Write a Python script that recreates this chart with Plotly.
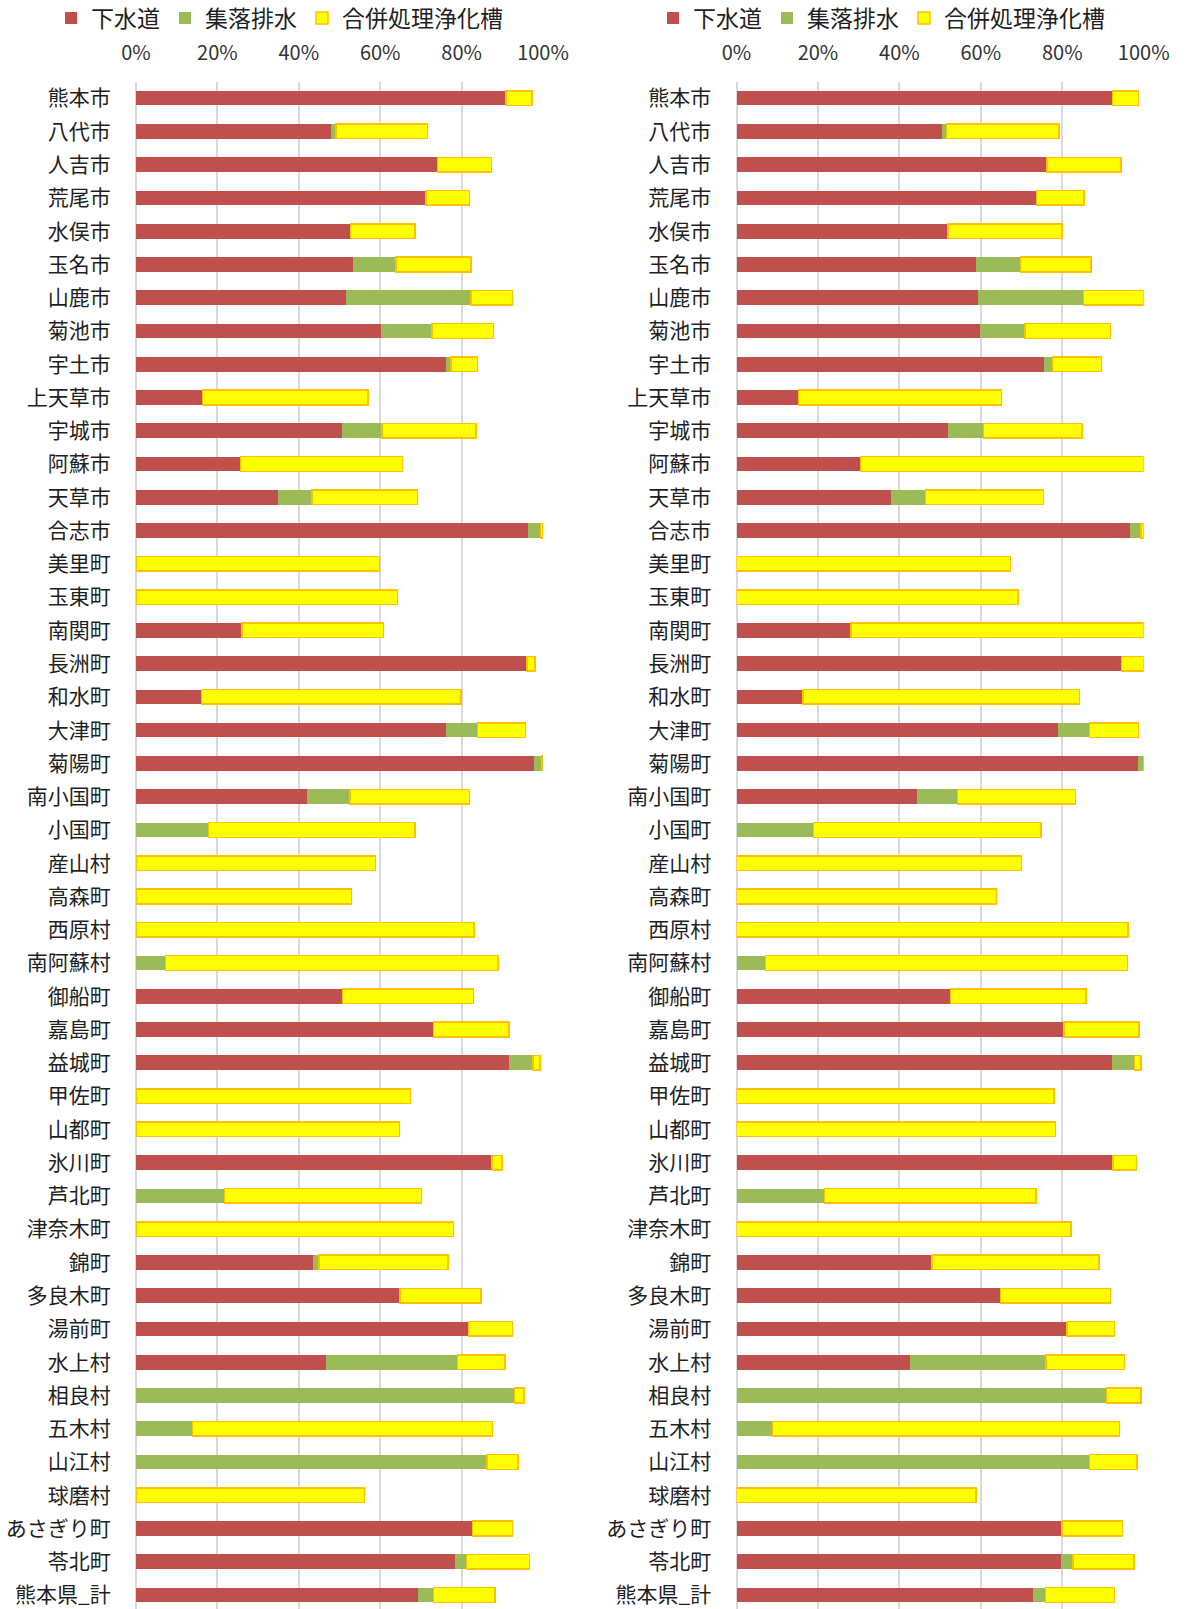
import plotly.graph_objects as go

categories = ["熊本市", "八代市", "人吉市", "荒尾市", "水俣市", "玉名市", "山鹿市", "菊池市", "宇土市",
              "上天草市", "宇城市", "阿蘇市", "天草市", "合志市", "美里町", "玉東町", "南関町", "長洲町",
              "和水町", "大津町", "菊陽町", "南小国町", "小国町", "産山村", "高森町", "西原村", "南阿蘇村",
              "御船町", "嘉島町", "益城町", "甲佐町", "山都町", "氷川町", "芦北町", "津奈木町", "錦町",
              "多良木町", "湯前町", "水上村", "相良村", "五木村", "山江村", "球磨村", "あさぎり町",
              "苓北町", "熊本県_計"]

series_names = ["下水道", "集落排水", "合併処理浄化槽"]
tick_values = [0, 20, 40, 60, 80, 100]
tick_labels = ["0%", "20%", "40%", "60%", "80%", "100%"]

# Left chart (%)
left_sewer = [90.7, 47.9, 74.1, 71.3, 52.7, 53.2, 51.5, 60.3, 76.2, 16.3, 50.5, 25.7, 34.9, 96.2, 0, 0,
              26.0, 96.1, 16.1, 76.1, 97.9, 41.9, 0, 0, 0, 0, 0, 50.7, 73.1, 91.7, 0, 0, 87.5, 0, 0,
              43.6, 64.9, 81.7, 46.6, 0, 0, 0, 0, 82.7, 78.4, 69.2]
left_village = [0.2, 1.2, 0, 0, 0, 10.7, 30.8, 12.4, 1.2, 0, 9.9, 0, 8.3, 3.2, 0, 0,
                0, 0, 0, 7.8, 1.9, 10.7, 17.8, 0, 0, 0, 7.2, 0, 0, 5.9, 0, 0, 0, 21.7, 0,
                1.4, 0, 0, 32.4, 93.0, 13.9, 86.3, 0, 0, 2.8, 3.9]
left_septic = [6.4, 22.5, 13.2, 10.6, 15.9, 18.4, 10.2, 15.1, 6.5, 40.7, 23.1, 39.8, 26.0, 0.6, 59.8, 64.3,
               34.8, 1.9, 63.8, 11.8, 0.2, 29.3, 50.7, 58.8, 53.0, 83.0, 81.8, 32.2, 18.6, 1.7, 67.4, 64.8,
               2.4, 48.5, 78.0, 31.6, 19.9, 10.8, 11.7, 2.3, 73.7, 7.6, 56.1, 9.8, 15.5, 15.1]

# Right chart (%)
right_sewer = [92.3, 50.5, 76.3, 73.7, 52.0, 58.8, 59.4, 59.8, 75.6, 15.2, 52.0, 30.4, 38.0, 96.6, 0, 0,
               28.1, 94.6, 16.3, 78.9, 98.5, 44.3, 0, 0, 0, 0, 0, 52.6, 80.4, 92.1, 0, 0, 92.4, 0, 0,
               48.0, 64.8, 81.2, 42.7, 0, 0, 0, 0, 79.9, 79.8, 72.9]
right_village = [0, 1.1, 0, 0, 0, 10.9, 25.8, 11.1, 2.0, 0, 8.6, 0, 8.4, 2.7, 0, 0,
                 0, 0, 0, 7.8, 1.5, 10.0, 18.9, 0, 0, 0, 7.1, 0, 0, 5.6, 0, 0, 0, 21.6, 0,
                 0, 0, 0, 33.3, 90.9, 8.8, 86.7, 0, 0, 2.8, 3.0]
right_septic = [6.4, 27.6, 18.1, 11.6, 27.9, 17.3, 14.8, 21.0, 12.0, 49.9, 24.3, 69.6, 29.0, 0.7, 67.3, 69.1,
                71.9, 5.4, 67.9, 12.0, 0, 28.9, 55.9, 70.0, 63.9, 96.1, 88.9, 33.2, 18.4, 1.6, 78.0, 78.4,
                5.8, 51.9, 82.1, 41.0, 27.1, 11.6, 19.3, 8.4, 85.3, 11.7, 58.8, 14.9, 15.0, 16.9]

colors = ["#C0504D", "#9BBB59", "#FFFF00"]
line_colors = ["rgba(0,0,0,0)", "rgba(0,0,0,0)", "#FFC000"]
line_widths = [0, 0, 1.5]

FONT = "Noto Sans CJK JP"
W, H = 1185, 1609


def nz(vals):
    return [v if v else None for v in vals]


fig = go.Figure()
panels = [
    ("x", "y", "legend", [left_sewer, left_village, left_septic]),
    ("x2", "y2", "legend2", [right_sewer, right_village, right_septic]),
]
for xa, ya, lg, data in panels:
    for name, vals, c, lc, lw in zip(series_names, data, colors, line_colors, line_widths):
        fig.add_trace(go.Bar(
            y=categories, x=nz(vals), name=name, orientation="h",
            xaxis=xa, yaxis=ya, legend=lg,
            marker=dict(color=c, line=dict(color=lc, width=lw)),
            hoverinfo="skip",
        ))

top_px = 81.5
y_dom = [0, 1 - top_px / H]
y_range = [45.42, -0.5]

xcommon = dict(
    side="top", range=[0, 100], tickmode="array", tickvals=tick_values, ticktext=tick_labels,
    showgrid=True, gridcolor="#D9D9D9", gridwidth=1.5,
    zeroline=True, zerolinecolor="#D9D9D9", zerolinewidth=1.5,
    showline=False, ticks="outside", ticklen=13, tickcolor="rgba(0,0,0,0)",
    tickfont=dict(family=FONT, size=20, color="#333333"), fixedrange=True,
    automargin=False,
)
ycommon = dict(
    type="category", categoryorder="array", categoryarray=categories,
    range=y_range, autorange=False, domain=y_dom, showgrid=False, zeroline=False,
    showline=False, ticks="outside", ticklen=20, tickcolor="rgba(0,0,0,0)",
    tickfont=dict(family=FONT, size=21, color="#1f1f1f"), fixedrange=True,
    automargin=False,
)

legcommon = dict(
    orientation="h", yanchor="middle", y=1 - 18 / H, xanchor="left",
    font=dict(family=FONT, size=23, color="#1f1f1f"), bgcolor="rgba(0,0,0,0)",
    itemclick=False, itemdoubleclick=False, traceorder="normal",
)

fig.update_layout(
    width=W, height=H, margin=dict(l=0, r=0, t=0, b=0, autoexpand=False),
    paper_bgcolor="white", plot_bgcolor="white",
    barmode="stack", bargap=0.56,
    font=dict(family=FONT),
    xaxis=dict(domain=[136 / W, 543 / W], anchor="y", **xcommon),
    yaxis=dict(anchor="x", **ycommon),
    xaxis2=dict(domain=[736.5 / W, 1143.7 / W], anchor="y2", **xcommon),
    yaxis2=dict(anchor="x2", **ycommon),
    legend=dict(x=51 / W, **legcommon),
    legend2=dict(x=653 / W, **legcommon),
    showlegend=True,
)

fig.write_html("out.html", include_plotlyjs=True, config={"displayModeBar": False})
